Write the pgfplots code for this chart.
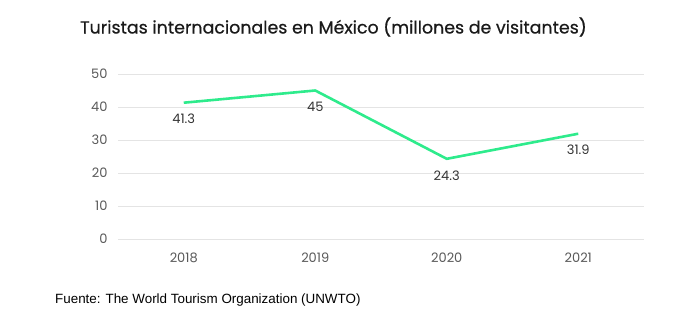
\documentclass[border=0pt]{standalone}
\usepackage{fontspec}
\setmainfont{Poppins}
\newfontfamily\titlefont{Poppins}[FakeBold=0.6]
\newfontfamily\srcfont{Liberation Sans}
\usepackage{pgfplots}
\pgfplotsset{compat=1.18}
\definecolor{linegreen}{HTML}{2EEB8C}
\definecolor{gridgray}{HTML}{E4E4E4}
\definecolor{ticktext}{HTML}{595959}
\definecolor{titletext}{HTML}{1A1A1A}
\definecolor{labeltext}{HTML}{333333}
\begin{document}
\begin{tikzpicture}[x=1pt,y=1pt]
\path[use as bounding box] (0,0) rectangle (674,-336);
\node[anchor=west,text=titletext,font=\titlefont\fontsize{17.4}{20}\selectfont,inner sep=0pt] at (80,-27) {Turistas internacionales en México (millones de visitantes)};
\node[anchor=west,text=black,font=\srcfont\fontsize{13.4}{15}\selectfont,inner sep=0pt] at (55,-300) {Fuente: The World Tourism Organization (UNWTO)};
\begin{axis}[
  at={(118pt,-239pt)}, anchor=south west,
  scale only axis, width=526pt, height=165pt,
  xmin=-0.5, xmax=3.5, ymin=0, ymax=50,
  xtick={0,1,2,3}, xticklabels={2018,2019,2020,2021},
  ytick={0,10,20,30,40,50},
  axis line style={draw=none},
  major tick length=0pt,
  ymajorgrids, grid style={gridgray, line width=0.9pt},
  tick label style={text=ticktext, font=\fontsize{13}{15}\selectfont},
  /pgf/number format/assume math mode=true,
  yticklabel style={xshift=-7pt},
  xticklabel style={yshift=-10pt},
  clip=false,
]
\addplot[linegreen, line width=2.6pt, line join=round,
  nodes near coords, point meta=explicit symbolic,
  every node near coord/.style={anchor=north, yshift=-7pt, text=labeltext, font=\fontsize{13}{15}\selectfont}]
  coordinates {(0,41.3)[41.3] (1,45)[45] (2,24.3)[24.3] (3,31.9)[31.9]};
\end{axis}
\end{tikzpicture}
\end{document}
